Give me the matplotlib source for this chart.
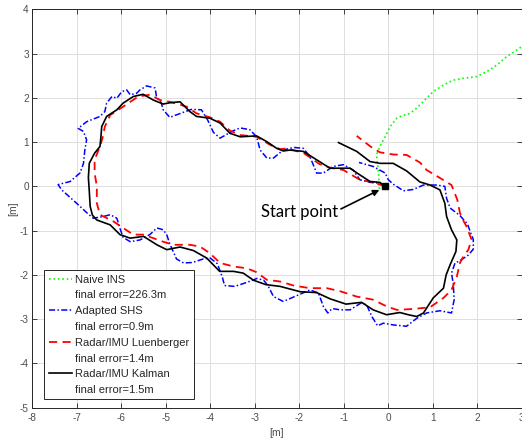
import matplotlib
matplotlib.use("Agg")
import matplotlib.pyplot as plt
from matplotlib.lines import Line2D

# ---------------- data ----------------
start_point = (-0.07, 0.0)

naive_x = [-0.2, -0.22, -0.26, -0.25, -0.19, -0.11, -0.07, 0.04, 0.19, 0.3, 0.49, 0.64, 0.82, 1.01,
           1.24, 1.46, 1.69, 1.99, 2.21, 2.44, 2.66, 2.89, 3.0, 3.1]
naive_y = [-0.06, 0.3, 0.67, 0.75, 0.9, 1.05, 1.12, 1.35, 1.54, 1.59, 1.65, 1.77, 1.95, 2.14,
           2.29, 2.4, 2.44, 2.48, 2.59, 2.74, 2.93, 3.08, 3.16, 3.22]

shs_x = [-0.07, -0.19, -0.41, -0.64, -0.79, -1.01, -1.24, -1.46, -1.61, -1.76, -1.91, -2.13, -2.36,
         -2.58, -2.73, -2.88, -2.96, -3.11, -3.33, -3.5, -3.78, -3.93, -4.06, -4.2, -4.42, -4.64,
         -4.91, -5.06, -5.1, -5.21, -5.24, -5.43, -5.58, -5.66, -5.8, -5.88, -5.99, -6.1, -6.21,
         -6.33, -6.37, -6.48, -6.78, -6.97, -6.85, -6.78, -6.82, -6.85, -6.93, -7.15, -7.42, -7.34,
         -7.15, -6.93, -6.75, -6.63, -6.4, -6.25, -6.1, -6.03, -5.96, -5.8, -5.58, -5.36, -5.2,
         -5.06, -4.98, -4.91, -4.76, -4.6, -4.4, -4.16, -4.0, -3.84, -3.73, -3.68, -3.45, -3.18,
         -2.95, -2.8, -2.7, -2.58, -2.36, -2.06, -1.76, -1.57, -1.46, -1.36, -1.26, -1.08, -0.86,
         -0.62, -0.49, -0.37, -0.24, -0.11, 0.11, 0.41, 0.64, 0.86, 1.16, 1.42, 1.48, 1.46, 1.42,
         1.5, 1.61, 1.8, 1.91, 1.91, 1.84, 1.78, 1.61, 1.39, 1.31, 1.27, 1.09, 0.79, 0.56, 0.34,
         0.11, 0.0, -0.07, -0.34, -0.66]
shs_y = [0.0, 0.07, 0.09, 0.15, 0.37, 0.49, 0.45, 0.3, 0.3, 0.67, 0.86, 0.88, 0.82,
         0.64, 0.64, 0.82, 1.12, 1.28, 1.32, 1.25, 1.09, 1.22, 1.5, 1.73, 1.74, 1.66,
         1.56, 1.73, 1.88, 2.03, 2.22, 2.27, 2.18, 2.1, 2.07, 2.18, 2.14, 1.99, 2.03,
         1.88, 1.69, 1.58, 1.46, 1.31, 1.24, 1.05, 0.82, 0.52, 0.3, 0.11, 0.04, -0.08,
         -0.25, -0.45, -0.62, -0.72, -0.68, -0.64, -0.72, -0.95, -1.15, -1.25, -1.21, -1.09, -0.94,
         -0.98, -1.09, -1.3, -1.64, -1.73, -1.72, -1.64, -1.62, -1.75, -2.05, -2.24, -2.26, -2.17,
         -2.08, -2.12, -2.25, -2.49, -2.6, -2.47, -2.34, -2.41, -2.71, -2.86, -2.76, -2.79, -2.79,
         -2.64, -2.67, -2.94, -3.15, -3.09, -3.13, -3.16, -2.98, -2.86, -2.81, -2.86, -2.56, -2.2, -1.96,
         -1.73, -1.68, -1.55, -1.42, -1.2, -1.02, -0.85, -0.66, -0.49, -0.27, 0.0, 0.03, 0.03, -0.07, -0.1,
         0.05, 0.15, 0.3, 0.45, 0.54]

lue_x = [-0.07, -0.34, -0.64, -1.01, -1.3, -1.54, -1.9, -2.28, -2.43, -2.66, -2.96, -3.33, -3.56,
         -3.78, -4.01, -4.31, -4.53, -4.91, -5.13, -5.36, -5.62, -5.96, -6.25, -6.37, -6.42, -6.48,
         -6.6, -6.6, -6.55, -6.55, -6.48, -6.18, -5.96, -5.73, -5.51, -5.28, -5.06, -4.83, -4.46,
         -4.23, -4.01, -3.78, -3.48, -3.18, -2.96, -2.73, -2.43, -2.13, -1.76, -1.38, -1.08, -0.71,
         -0.34, -0.04, 0.19, 0.56, 0.94, 1.24, 1.42, 1.54, 1.61, 1.69, 1.8, 1.87, 1.76, 1.7, 1.61,
         1.55, 1.42, 1.16, 0.86, 0.71, 0.41, 0.11, -0.19, -0.4, -0.71]
lue_y = [0.0, 0.09, 0.15, 0.37, 0.42, 0.5, 0.75, 0.86, 0.84, 0.94, 1.12, 1.16, 1.26,
         1.46, 1.56, 1.65, 1.8, 1.91, 1.95, 2.07, 2.03, 1.8, 1.61, 1.35, 1.1, 0.9,
         0.6, 0.3, 0.0, -0.38, -0.64, -0.79, -0.94, -1.09, -1.09, -1.17, -1.25, -1.32, -1.32,
         -1.36, -1.51, -1.73, -1.81, -1.85, -1.94, -2.11, -2.15, -2.24, -2.3, -2.3, -2.37, -2.49,
         -2.56, -2.71, -2.79, -2.77, -2.73, -2.52, -2.34, -2.04, -1.73, -1.58, -1.43, -1.2, -0.91, -0.8, -0.6,
         -0.3, 0.03, 0.19, 0.37, 0.54, 0.71, 0.72, 0.77, 0.9, 1.14]

kal_x = [-0.07, -0.19, -0.41, -0.64, -0.86, -1.31, -1.61, -1.91, -2.21, -2.36, -2.51, -2.73, -2.96,
         -3.33, -3.56, -3.78, -4.01, -4.31, -4.46, -4.68, -4.9, -5.06, -5.28, -5.51, -5.73, -5.96,
         -6.1, -6.33, -6.44, -6.46, -6.48, -6.6, -6.72, -6.74, -6.72, -6.7, -6.65, -6.55, -6.25,
         -6.03, -5.8, -5.5, -5.2, -4.98, -4.68, -4.38, -4.08, -3.79, -3.48, -3.26, -3.03, -2.75,
         -2.43, -1.98, -1.61, -1.31, -0.95, -0.6, -0.34, -0.04, 0.26, 0.45, 0.64, 0.79, 1.01, 1.24,
         1.3, 1.39, 1.52, 1.54, 1.42, 1.31, 1.27, 1.16, 0.94, 0.71, 0.41, 0.11, -0.19, -0.41, -0.71,
         -1.12]
kal_y = [0.0, 0.09, 0.11, 0.26, 0.41, 0.41, 0.6, 0.79, 0.82, 0.8, 0.86, 1.01, 1.14,
         1.12, 1.2, 1.43, 1.54, 1.58, 1.69, 1.91, 1.89, 1.86, 1.95, 2.08, 2.03, 1.88,
         1.73, 1.58, 1.35, 1.1, 0.9, 0.75, 0.52, 0.2, -0.1, -0.45, -0.65, -0.76, -0.87,
         -1.09, -1.17, -1.13, -1.32, -1.43, -1.37, -1.45, -1.62, -1.92, -1.92, -1.96, -2.12, -2.22,
         -2.26, -2.38, -2.4, -2.54, -2.66, -2.62, -2.79, -2.9, -2.85, -2.9, -2.94, -2.86, -2.52, -2.3,
         -2.0, -1.77, -1.47, -1.21, -0.98, -0.68, -0.38, -0.08, 0.03, 0.1, 0.35, 0.52, 0.52, 0.56, 0.79,
         0.99]

labels = ["Naive INS", "Adapted SHS", "Radar/IMU Luenberger", "Radar/IMU Kalman"]
errors = ["final error=226.3m", "final error=0.9m", "final error=1.4m", "final error=1.5m"]

xticks = list(range(-8, 4))
yticks = list(range(-5, 5))

# ---------------- plot ----------------
plt.rcParams['font.family'] = ['Liberation Sans', 'DejaVu Sans']
plt.rcParams['axes.unicode_minus'] = False
fig = plt.figure(figsize=(5.22, 4.43), dpi=100)
ax = fig.add_axes([0.0619, 0.0797, 0.9377, 0.8993])

l1, = ax.plot(naive_x, naive_y, color='#00ff00', linestyle=':', lw=1.2)
l2, = ax.plot(shs_x, shs_y, color='#0000ff', linestyle='-.', lw=1.1, dashes=(4, 1.5, 1, 1.5))
l3, = ax.plot(lue_x, lue_y, color='#ff0000', linestyle='--', lw=1.3, dashes=(4.5, 3))
l4, = ax.plot(kal_x, kal_y, color='black', linestyle='-', lw=1.2)
ax.plot([start_point[0]], [start_point[1]], marker='s', color='black', markersize=4.5, linestyle='none')

ax.annotate("Start point", xy=(-0.2, -0.08), xytext=(-2.86, -0.69),
            fontsize=12, family=['Lato', 'DejaVu Sans'], ha='left', va='baseline',
            arrowprops=dict(arrowstyle='-|>', color='black', lw=1.2, mutation_scale=9,
                            shrinkA=0, shrinkB=0, relpos=(1.0, 0.6)))

ax.set_xlim(-8, 3)
ax.set_ylim(-5, 4)
ax.set_xticks(xticks)
ax.set_yticks(yticks)
ax.grid(True, color='#dedede', lw=0.7)
ax.set_axisbelow(True)
ax.tick_params(direction='in', top=True, right=True, length=3.5, width=0.6,
               labelsize=7.2, colors='#262626', labelcolor='#4d4d4d')
ax.tick_params(axis='x', pad=4)
ax.tick_params(axis='y', pad=2.5)
for s in ax.spines.values():
    s.set_color('#262626')
    s.set_linewidth(0.7)

ax.set_xlabel('[m]', fontsize=7.5, color='#4d4d4d')
ax.set_ylabel('[m]', fontsize=7.5, color='#4d4d4d')
ax.xaxis.set_label_coords(0.5, -0.064)
ax.yaxis.set_label_coords(-0.039, 0.5)
ax.xaxis.label.set_va('center')
ax.yaxis.label.set_va('center')

blank = Line2D([], [], linestyle='none')
handles = [l1, blank, l2, blank, l3, blank, l4, blank]
leg_labels = [labels[0], errors[0], labels[1], errors[1], labels[2], errors[2], labels[3], errors[3]]
leg = ax.legend(handles, leg_labels, loc='lower left', bbox_to_anchor=(44.3 / 522, (443 - 399.3) / 443),
                bbox_transform=fig.transFigure, borderaxespad=0, fontsize=8,
                handlelength=2.1, handletextpad=0.3, labelspacing=0.52, borderpad=0.38,
                fancybox=False, framealpha=1, edgecolor='#262626')
leg.get_frame().set_linewidth(0.7)
for t in leg.get_texts():
    t.set_color('#262626')

fig.savefig('out.png', dpi=100)
